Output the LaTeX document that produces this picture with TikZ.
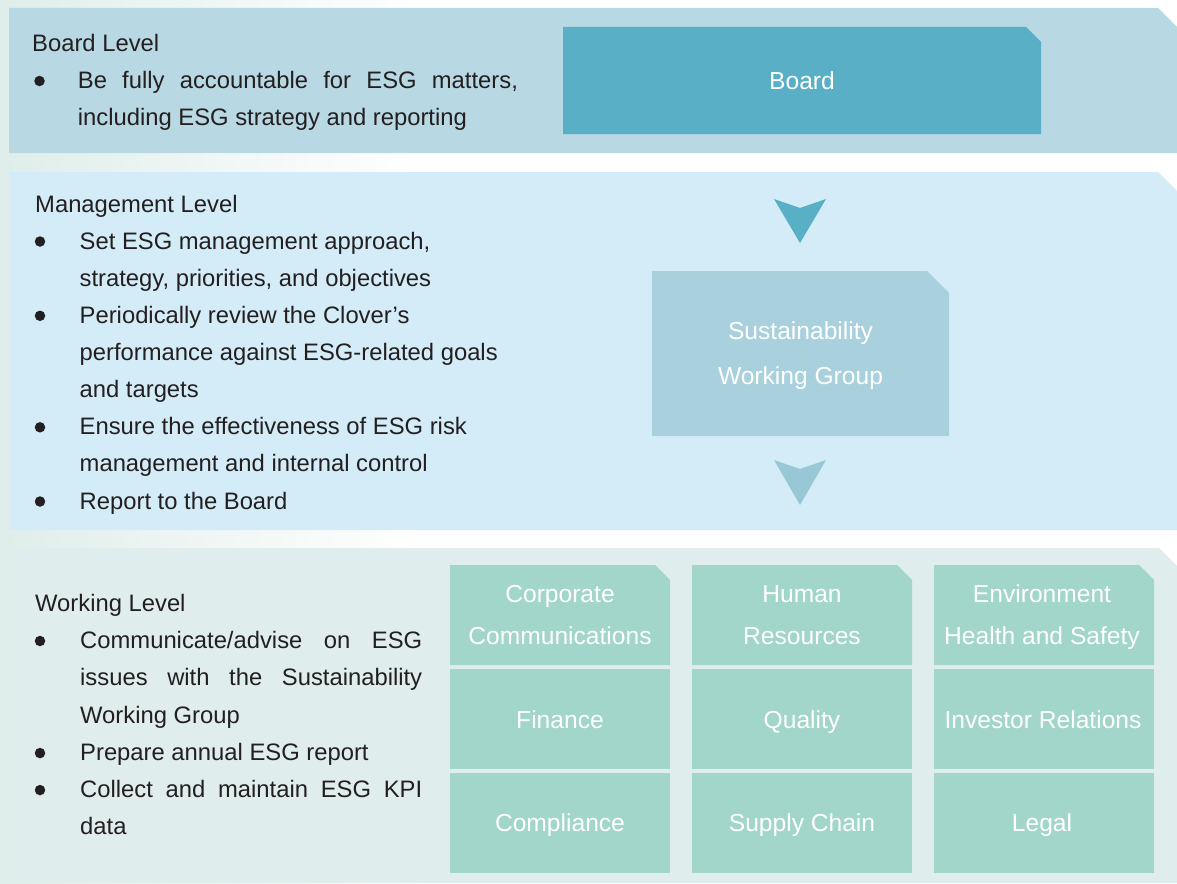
\documentclass[tikz,border=0pt]{standalone}
\usepackage{fontspec}
\setmainfont{Liberation Sans}
\usetikzlibrary{backgrounds}

\definecolor{pagegreen}{HTML}{DFEEEA}
\definecolor{bandone}{HTML}{B8D8E3}
\definecolor{bandtwo}{HTML}{D4ECF8}
\definecolor{bandthree}{HTML}{DFEEED}
\definecolor{boardfill}{HTML}{58AFC6}
\definecolor{swgfill}{HTML}{A8D1DD}
\definecolor{arrowtwo}{HTML}{98C8D6}
\definecolor{cellfill}{HTML}{A2D6CA}
\definecolor{inktext}{HTML}{231F20}

% fill a node's outline with its top-right corner cut off
\newcommand\cutfill[3]{%
  \fill[#3] (#1.south west) -- (#1.north west) -- ([xshift=-#2pt]#1.north east)
    -- ([yshift=-#2pt]#1.north east) -- (#1.south east) -- cycle;}

\begin{document}
\begin{tikzpicture}[x=1pt,y=-1pt,
  frame/.style={rectangle, inner sep=0pt, outer sep=0pt, anchor=north west},
  label/.style={inner sep=0pt, anchor=base west, text=inktext,
    font=\fontsize{23.8pt}{37pt}\selectfont},
  dot/.style={circle, fill=inktext, inner sep=0pt, minimum size=10.5pt},
  boxtext/.style={text=white, align=center, inner sep=0pt},
  cell/.style={frame, minimum width=220pt, minimum height=100pt, boxtext,
    font=\fontsize{24.6pt}{42pt}\selectfont}]

\useasboundingbox (0,0) rectangle (1177,883);

% level bands
\node[frame, minimum width=1168pt, minimum height=145pt] (bandA) at (9,8) {};
\node[frame, minimum width=1168pt, minimum height=358pt] (bandB) at (9,172) {};
\node[frame, minimum width=1168pt, minimum height=335pt] (bandC) at (9,548) {};

% boxes
\node[frame, minimum width=478pt, minimum height=107pt, boxtext,
  font=\fontsize{24.6pt}{42pt}\selectfont] (board) at (563,27) {Board};
\node[frame, minimum width=297pt, minimum height=165pt, boxtext,
  font=\fontsize{24.6pt}{45pt}\selectfont] (swg) at (652,273)
  {Sustainability\\Working Group};

\node[cell] (c11) at (450,565) {Corporate\\Communications};
\node[cell] (c12) at (692,565) {Human\\Resources};
\node[cell] (c13) at (932,567) {Environment\\Health and Safety};
\node[cell] (c21) at (450,670) {Finance};
\node[cell] (c22) at (692,672) {Quality};
\node[cell] (c23) at (933,670) {Investor Relations};
\node[cell] (c31) at (450,775) {Compliance};
\node[cell] (c32) at (692,775) {Supply Chain};
\node[cell] (c33) at (932,775) {Legal};

\begin{scope}[on background layer]
  \shade[left color=pagegreen, right color=white] (0,0) rectangle (420,883);
  \fill[white] (420,0) rectangle (1177,883);
  \fill[pagegreen] (0,0) rectangle (9,883);
  \cutfill{bandA}{19}{bandone}
  \cutfill{bandB}{19}{bandtwo}
  \cutfill{bandC}{18}{bandthree}
  \fill[boardfill] (563,134) -- (563,27) -- (1026,27) -- (1041,42) -- (1041,134) -- cycle;
  \fill[swgfill] (652,436) -- (652,271) -- (927,271) -- (949,293) -- (949,436) -- cycle;
  \foreach \x in {450,692,934}{%
    \fill[cellfill] (\x,665) -- (\x,565) -- (\x+205,565) -- (\x+220,580) -- (\x+220,665) -- cycle;
    \fill[cellfill] (\x,669) rectangle (\x+220,769);
    \fill[cellfill] (\x,773) rectangle (\x+220,873);}
\end{scope}

% downward chevrons between the levels
\coordinate (tipA) at (800,243);
\coordinate (tipB) at (800,505);
\fill[boardfill] (tipA) -- ++(-26,-44) -- ++(26,9) -- ++(26,-9) -- cycle;
\fill[arrowtwo] (tipB) -- ++(-26,-45) -- ++(26,9) -- ++(26,-9) -- cycle;

% Board level
\node[label] (hA) at (32,52) {Board Level};
\node[dot] (pA1) at (39.5,81) {};
\node[label] (tA1) at (77.7,88.5) {\makebox[440pt][s]{Be fully accountable for ESG matters,}};
\node[label] (tA2) at (77.7,125.5) {including ESG strategy and reporting};

% Management level
\node[label] (hB) at (35,212.5) {Management Level};
\node[dot] (pB1) at (40,241.5) {};
\node[label] (tB1) at (79.5,249) {Set ESG management approach,};
\node[label] (tB2) at (79.5,286.1) {strategy, priorities, and objectives};
\node[dot] (pB2) at (40,315.8) {};
\node[label] (tB3) at (79.5,323.3) {Periodically review the Clover’s};
\node[label] (tB4) at (79.5,360.4) {performance against ESG-related goals};
\node[label] (tB5) at (79.5,397.6) {and targets};
\node[dot] (pB3) at (40,427.3) {};
\node[label] (tB6) at (79.5,434.8) {Ensure the effectiveness of ESG risk};
\node[label] (tB7) at (79.5,471.9) {management and internal control};
\node[dot] (pB4) at (40,501.5) {};
\node[label] (tB8) at (79.5,509) {Report to the Board};

% Working level
\node[label] (hC) at (35,611.7) {Working Level};
\node[dot] (pC1) at (40,641) {};
\node[label] (tC1) at (80,648.5) {\makebox[342pt][s]{Communicate/advise on ESG}};
\node[label] (tC2) at (80,685.8) {\makebox[342pt][s]{issues with the Sustainability}};
\node[label] (tC3) at (80,723) {Working Group};
\node[dot] (pC2) at (40,753.1) {};
\node[label] (tC4) at (80,760.6) {Prepare annual ESG report};
\node[dot] (pC3) at (40,790.1) {};
\node[label] (tC5) at (80,797.6) {\makebox[342pt][s]{Collect and maintain ESG KPI}};
\node[label] (tC6) at (80,834.9) {data};

\end{tikzpicture}
\end{document}
